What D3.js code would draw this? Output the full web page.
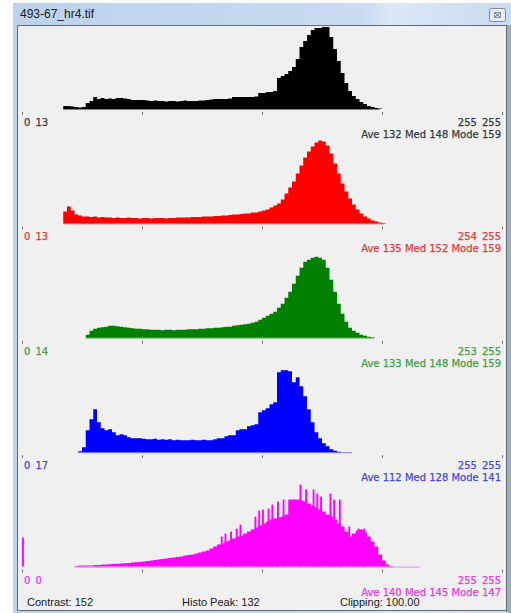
<!DOCTYPE html>
<html>
<head>
<meta charset="utf-8">
<script src="https://cdn.jsdelivr.net/npm/d3@7"></script>
<style>
body { margin: 0; background: #fff; }
svg { display: block; }
</style>
</head>
<body>
<svg id="main" width="511" height="613"></svg>
<script>
// histogram counts, one value per 2 grey levels, starting at the start bin
var blackCounts = [3,3,2.5,2,1.5,2,6,8,12,10,11,10,10.5,10,11,11,10.5,10,9,9,9,9,8.5,8,8.5,8,8,7.5,8,8,7.5,8,8.5,8,8,8,8.5,8.5,9,9.5,10,10,10,10,10.5,12,12,12,12,12,12,12.5,16,16,17,17,18,31,33,35,38,42,50,62,68,74,79,81,81,82,82,72,60,48,36,26,18,13,10,7,5,3,2,1,0.5];
var redCounts = [12,17,13,9,8,7,7,6.5,7,6,6.5,6,6,5.5,6,5.5,5.5,6,5.5,5.5,5,5.5,5.5,5,5.5,5.5,5.5,5,5.5,5.5,6,6,6,6,6.5,6.5,6.5,7,7,7,7.5,7.5,8,8,8.5,9,9,9.5,10,10,11,11,12,13,14,16,18,20,24,30,36,42,50,58,66,72,77,81,83,82,78,70,60,50,40,32,25,19,14,10,7,5,3,2,1,0.5];
var greenCounts = [3,7,9,10,10.5,11,12,12,11.5,11,10.5,10,9.5,9,9,8.5,8.5,8,8,8,7.5,8,8,7.5,8,8,8,8.5,8.5,8.5,9,9,9.5,9.5,10,10,10.5,11,11,12,12.5,13,13.5,14,15,16,18,20,22,24,26,30,34,40,46,54,62,70,76,78,80,81,80,78,70,58,46,34,24,16,10,7,5,3,2,1,0.5];
var blueCounts = [1,5,22,33,43,30,24,22,23,20,17,18,17,15,14,14,14,13.5,13,13,13.5,12.5,13,12.5,13,12,12.5,12,12,12,12.5,12,12,12.5,12,12,13,14,14,16,17,17,22,23,23,26,27,28,40,42,44,48,50,80,82,82,81,70,75,66,56,43,30,20,14,9,6,3,1.5,0.5];
var magentaCounts = [0.5,1,1,1,1.2,1.5,1.5,2,2,2.3,2.5,2.8,3,3.3,3.5,4,4.3,4.7,5,5.5,6,6.5,7,7.5,8,8.5,9,9.5,10,11,11.5,12,13,14,15,16,18,20,22,23,25,26,28,30,31,33,35,37,39,41,43,45,47,48,49,50,52,67,67,67,66,65,63,61,59,57,55,52,50,47,43,40,35,30,33,36,37,34,30,25,20,12,6,2,0.5];
// single-level spikes of the stretched composite: [bin, count]
var magentaSpikes = [[0,29],[106,30],[108,33],[111,35],[114,38],[116,42],[124,50],[126,56],[128,57],[131,58],[133,62],[136,65],[139,67],[148,82],[151,77],[155,77],[157,73],[159,70],[164,73],[166,67],[169,67],[174,40],[179,38],[182,38]];

var startBins = [22, 22, 34, 30, 28];
var endBins = [191, 193, 188, 176, 212];
var tickBins = [0, 64, 128, 192, 256];
var minLabels = [["0", "13"], ["0", "13"], ["0", "14"], ["0", "17"], ["0", "0"]];
var maxLabels = [["255", "255"], ["254", "255"], ["253", "255"], ["255", "255"], ["255", "255"]];
var statLabels = ["Ave 132 Med 148 Mode 159", "Ave 135 Med 152 Mode 159", "Ave 133 Med 148 Mode 159", "Ave 112 Med 128 Mode 141", "Ave 140 Med 145 Mode 147"];
var statusLabels = ["Contrast: 152", "Histo Peak: 132", "Clipping: 100.00"];
var title = "493-67_hr4.tif";

var fills = ["#000000", "#ff0000", "#008000", "#0000ff", "#ff00ff"];
var inks = ["#3a3a3a", "#e23c3c", "#46a046", "#4a4ad0", "#e040e0"];
var channels = [blackCounts, redCounts, greenCounts, blueCounts, magentaCounts];

var svg = d3.select("#main");

// window chrome
var defs = svg.append("defs");
var tg = defs.append("linearGradient").attr("id", "titlebar");
tg.append("stop").attr("offset", "0").attr("stop-color", "#bcd2ed");
tg.append("stop").attr("offset", "0.7").attr("stop-color", "#c8dbf1");
tg.append("stop").attr("offset", "0.76").attr("stop-color", "#dbe7f5");
tg.append("stop").attr("offset", "1").attr("stop-color", "#c9dbf0");
svg.append("rect").attr("x", 13).attr("y", 3).attr("width", 498).attr("height", 610).attr("fill", "url(#titlebar)");
svg.append("rect").attr("x", 506).attr("y", 25).attr("width", 5).attr("height", 588).attr("fill", "#a3abb5");
svg.append("text").attr("x", 20).attr("y", 18).attr("font-family", "Liberation Sans, Arial, sans-serif").attr("font-size", 12).attr("fill", "#1a1a1a").text(title);
var closeBtn = svg.append("g");
closeBtn.append("rect").attr("x", 489.5).attr("y", 8.5).attr("width", 16).attr("height", 13).attr("rx", 2).attr("fill", "#e6edf6").attr("stroke", "#7d8b9c");
closeBtn.append("rect").attr("x", 494.5).attr("y", 12.5).attr("width", 6).attr("height", 5).attr("fill", "none").attr("stroke", "#8a96a4");
closeBtn.append("path").attr("d", "M495,13 L500,17 M500,13 L495,17").attr("stroke", "#6a7686");

svg.append("rect").attr("x", 17.5).attr("y", 25.5).attr("width", 489).attr("height", 585).attr("fill", "#f0f0f0").attr("stroke", "#5d6b7b");

var x = d3.scaleLinear().domain([0, 256]).range([22, 502]);
var area = d3.area().curve(d3.curveStepAfter).x(function(d) { return x(d[0]); });

channels.forEach(function(counts, i) {
	var base = 109 + i * 114.4;
	var y = d3.scaleLinear().domain([0, 82]).range([base, base - 82]);
	var g = svg.append("g");
	var pts = counts.map(function(v, j) { return [startBins[i] + 2 * j, v]; });
	pts.push([startBins[i] + 2 * counts.length, 0]);
	g.append("line").attr("x1", x(startBins[i])).attr("x2", x(endBins[i])).attr("y1", base + 0.5).attr("y2", base + 0.5).attr("stroke", fills[i]).attr("stroke-opacity", 0.45);
	g.append("path").datum(pts).attr("d", area.y0(y(0)).y1(function(d) { return y(d[1]); })).attr("fill", fills[i]);
	if (i == 4) {
		g.selectAll(".spike").data(magentaSpikes).enter().append("rect").classed("spike", true)
			.attr("x", function(d) { return x(d[0]); })
			.attr("width", function(d) { return x(d[0] + 1) - x(d[0]); })
			.attr("y", function(d) { return y(d[1]); })
			.attr("height", function(d) { return y(0) - y(d[1]); })
			.attr("fill", fills[i]);
	}
	var ax = g.append("g").attr("transform", "translate(0," + (base + 3) + ")")
		.call(d3.axisBottom(x).tickValues(tickBins).tickSize(3).tickFormat(""));
	ax.select(".domain").remove();
	ax.selectAll("line").attr("stroke", "#777");
	var lab = g.append("g").attr("font-family", "DejaVu Sans, Verdana, sans-serif").attr("font-size", 10)
		.attr("fill", inks[i]).attr("stroke", inks[i]).attr("stroke-width", 0.25);
	var t1 = lab.append("text").attr("x", 24).attr("y", base + 17);
	t1.append("tspan").text(minLabels[i][0]);
	t1.append("tspan").attr("dx", 5).text(minLabels[i][1]);
	var t2 = lab.append("text").attr("x", 501).attr("y", base + 17).attr("text-anchor", "end");
	t2.append("tspan").text(maxLabels[i][0]);
	t2.append("tspan").attr("dx", 5).text(maxLabels[i][1]);
	lab.append("text").attr("x", 501).attr("y", base + 29).attr("text-anchor", "end").text(statLabels[i]);
});

var sx = [27, 182, 340];
svg.selectAll(".status").data(statusLabels).enter().append("text").classed("status", true)
	.attr("x", function(d, i) { return sx[i]; }).attr("y", 606)
	.attr("font-family", "Liberation Sans, Arial, sans-serif").attr("font-size", 11).attr("fill", "#1a1a1a")
	.text(function(d) { return d; });
</script>
</body>
</html>
